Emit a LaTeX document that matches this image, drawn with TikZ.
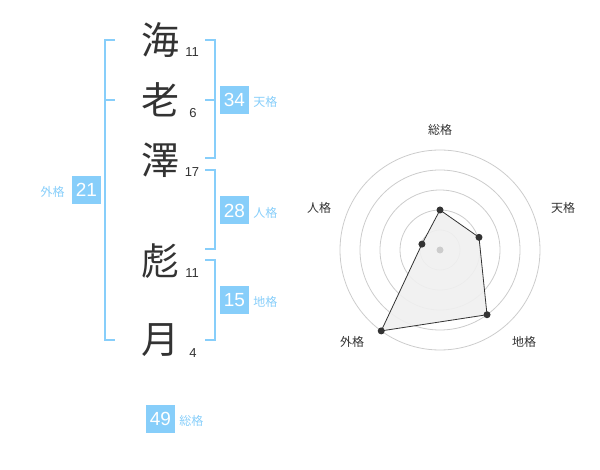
\documentclass[tikz,border=0pt]{standalone}
\usepackage{fontspec}
\setmainfont{Liberation Sans}
\newfontfamily\cjk{Noto Sans CJK JP}
\usetikzlibrary{positioning}
\definecolor{kakublue}{HTML}{87CEFA}
\definecolor{kakuink}{HTML}{333333}
\definecolor{ringgray}{HTML}{CCCCCC}
\definecolor{areagray}{HTML}{F0F0F0}

\begin{document}
\begin{tikzpicture}
      [%%%%%%%%%%%%%%%%%%%%%%%%%%%%%%
          x=1pt,y=1pt,
          kanji/.style={font=\cjk\fontsize{38}{38}\selectfont,text=kakuink,inner sep=0pt},
          strokes/.style={font=\fontsize{13}{13}\selectfont,text=kakuink,inner sep=0pt},
          score/.style={rectangle,fill=kakublue,text=white,minimum width=29pt,minimum height=28pt,inner sep=0pt,font=\fontsize{19}{19}\selectfont},
          kaku/.style={font=\cjk\fontsize{12}{12}\selectfont,text=kakublue,inner sep=0pt},
          bracket/.style={draw=kakublue,line width=2pt},
          ring/.style={draw=ringgray,line width=0.8pt},
          axis/.style={font=\cjk\fontsize{12}{12}\selectfont,text=kakuink,inner sep=0pt},
          dot/.style={circle,fill=kakuink,inner sep=0pt,minimum size=7pt}
      ]%%%%%%%%%%%%%%%%%%%%%%%%%%%%%%

  \useasboundingbox (0,0) rectangle (600,-470);

  % name
  \node[kanji] (c1) at (160,-40) {海};
  \node[kanji] (c2) at (160,-100) {老};
  \node[kanji] (c3) at (160,-160) {澤};
  \node[kanji] (c4) at (160,-261) {彪};
  \node[kanji] (c5) at (160,-340) {月};

  \node[strokes] (s1) at (192,-52) {11};
  \node[strokes] (s2) at (193,-113) {6};
  \node[strokes] (s3) at (192,-172) {17};
  \node[strokes] (s4) at (192,-273) {11};
  \node[strokes] (s5) at (193,-353) {4};

  % brackets
  \draw[bracket] (205,-40) -- (215,-40) -- (215,-158) -- (205,-158);
  \draw[bracket] (205,-100) -- (215,-100);
  \draw[bracket] (205,-170) -- (215,-170) -- (215,-249) -- (205,-249);
  \draw[bracket] (205,-260) -- (215,-260) -- (215,-340) -- (205,-340);
  \draw[bracket] (115,-40) -- (105,-40) -- (105,-340) -- (115,-340);
  \draw[bracket] (105,-100) -- (115,-100);

  % scores
  \node[score] (ten) at (234.5,-100) {34};
  \node[kaku,anchor=base west] (tenl) at ([xshift=4pt]ten.base east) {天格};
  \node[score] (jin) at (234.5,-210.5) {28};
  \node[kaku,anchor=base west] (jinl) at ([xshift=4pt]jin.base east) {人格};
  \node[score] (chi) at (234.5,-300) {15};
  \node[kaku,anchor=base west] (chil) at ([xshift=4pt]chi.base east) {地格};
  \node[score] (gai) at (86.5,-190) {21};
  \node[kaku,anchor=base east] (gail) at ([xshift=-7pt]gai.base west) {外格};
  \node[score] (sou) at (160.5,-419) {49};
  \node[kaku,anchor=base west] (soul) at ([xshift=4pt]sou.base east) {総格};

  % radar
  \begin{scope}[shift={(440,-250)}]
    \foreach \r in {20,40,...,100}
        \draw[ring] (0,0) circle (\r);
    \coordinate (p1) at (90:40);
    \coordinate (p2) at (18:41);
    \coordinate (p3) at (-54:80);
    \coordinate (p4) at (-126:100);
    \coordinate (p5) at (162:19);
    \filldraw[fill=areagray,fill opacity=0.9,draw=kakuink,line width=0.8pt]
        (p1) -- (p2) -- (p3) -- (p4) -- (p5) -- cycle;
    \node[dot,fill=ringgray] (ctr) at (0,0) {};
    \foreach \p in {p1,p2,p3,p4,p5}
        \node[dot] (d\p) at (\p) {};
  \end{scope}

  \node[axis] (ax1) at (440,-130) {総格};
  \node[axis] (ax2) at (563,-208) {天格};
  \node[axis] (ax3) at (524,-342) {地格};
  \node[axis] (ax4) at (352,-342) {外格};
  \node[axis] (ax5) at (319,-208) {人格};

\end{tikzpicture}
\end{document}
